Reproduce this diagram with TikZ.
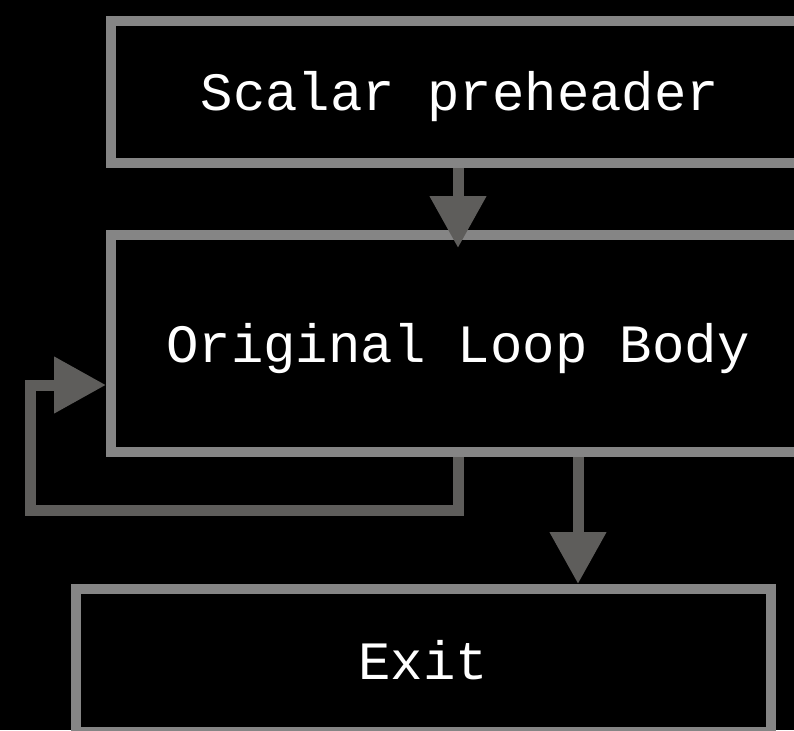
\documentclass[tikz,border=0pt]{standalone}
\usepackage{fontspec}
\setmonofont{Liberation Mono}
\usetikzlibrary{arrows.meta,calc}
\definecolor{boxgray}{HTML}{858585}
\definecolor{arrowgray}{HTML}{5E5D5B}
\tikzset{
  blockbox/.style={draw=boxgray, line width=10pt, fill=black, rectangle, inner sep=0pt,
    text=white, font=\fontsize{54}{60}\selectfont\ttfamily, text height=37pt, text depth=0pt, align=center},
  flow/.style={draw=arrowgray, line width=11pt, -{Triangle[length=52pt,width=54pt]}}
}
\begin{document}
\begin{tikzpicture}[x=1pt,y=-1pt]
\fill[black] (0,0) rectangle (794,730);
\useasboundingbox (0,0) rectangle (794,730);
\clip (0,0) rectangle (794,730);
\node[blockbox, minimum width=698pt, minimum height=142.5pt] (pre) at (460,92) {Scalar preheader};
\node[blockbox, minimum width=694pt, minimum height=217pt] (body) at (458,343.5) {Original Loop Body};
\node[blockbox, minimum width=695.5pt, minimum height=143pt] (exit) at (423.25,660.5) {Exit};
\coordinate (topx) at ($(body.north)+(0,18)$);
\draw[flow] (topx |- pre.south) -- (topx);
\coordinate (loopturn) at ($(body.south)+(0,53)$);
\coordinate (loopleft) at (30,385);
\draw[flow] (body.south) -- (loopturn) -| (loopleft) -- (body.west |- loopleft);
\coordinate (exitx) at ($(body.south)+(120,0)$);
\draw[flow] (exitx) -- (exitx |- exit.north);
\end{tikzpicture}
\end{document}
